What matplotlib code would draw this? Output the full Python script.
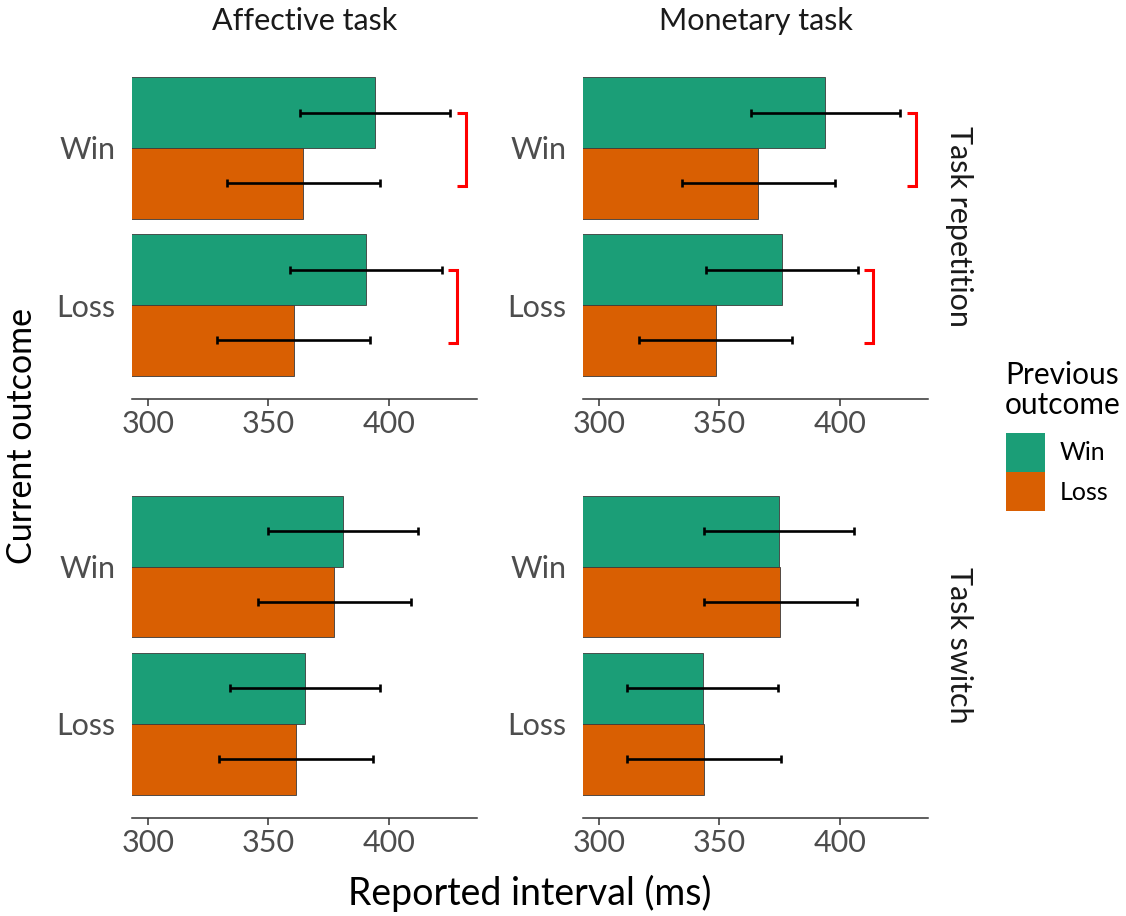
import matplotlib.pyplot as plt
from matplotlib.patches import Rectangle

plt.rcParams['font.family'] = ['Lato', 'DejaVu Sans']

# facets and categories
tasks = ['Affective task', 'Monetary task']
transitions = ['Task repetition', 'Task switch']
current_outcomes = ['Win', 'Loss']
previous_outcomes = ['Win', 'Loss']

# mean reported interval (ms): [transition][task][current][previous]
means = [
    [[[394.2, 364.3], [390.5, 360.5]],
     [[393.9, 366.1], [376.1, 348.4]]],
    [[[380.8, 377.2], [365.1, 361.6]],
     [[374.7, 375.2], [343.2, 343.7]]],
]
lower = [
    [[[363.2, 332.7], [358.9, 328.5]],
     [[362.9, 334.3], [344.5, 316.6]]],
    [[[350.0, 345.6], [333.9, 329.5]],
     [[343.8, 343.7], [311.9, 311.9]]],
]
upper = [
    [[[425.2, 396.0], [421.7, 392.1]],
     [[424.9, 397.7], [407.2, 380.1]]],
    [[[411.8, 409.0], [396.3, 393.4]],
     [[405.6, 407.0], [374.3, 375.5]]],
]
# which (transition, task, current) pairs get a significance bracket
significant = [(0, 0, 0), (0, 0, 1), (0, 1, 0), (0, 1, 1)]

colors = ['#1b9e77', '#d95f02']
xticks = [300, 350, 400]
xlim = (293.5, 436.5)

W, H = 1126, 916
fig = plt.figure(figsize=(W / 100, H / 100), dpi=100)

col_left = [132, 583]
row_top = [53.7, 472.5]
pw, ph = 345.3, 345.6

tick_color = '#4d4d4d'
bw = 0.45

for r in range(2):
    for c in range(2):
        ax = fig.add_axes([col_left[c] / W, 1 - (row_top[r] + ph) / H, pw / W, ph / H])
        for i, cur in enumerate(current_outcomes):
            ypos = 2 - i
            for j, prev in enumerate(previous_outcomes):
                y = ypos + bw / 2 - j * bw
                m = means[r][c][i][j]
                lo = lower[r][c][i][j]
                hi = upper[r][c][i][j]
                ax.barh(y, m, height=bw, color=colors[j], edgecolor='#3a3a3a',
                        linewidth=0.6, zorder=2)
                ax.errorbar(m, y, xerr=[[m - lo], [hi - m]], fmt='none',
                            ecolor='black', elinewidth=1.9, capsize=3.2,
                            capthick=1.9, zorder=3)
            if (r, c, i) in significant:
                top = max(upper[r][c][i])
                x0, x1 = top + 2.7, top + 6.5
                y0, y1 = ypos + 0.225, ypos - 0.24
                ax.plot([x0, x1, x1, x0], [y0, y0, y1, y1], color='#ff0000',
                        lw=2.2, solid_capstyle='butt', solid_joinstyle='miter',
                        clip_on=False, zorder=4)
        ax.set_xlim(*xlim)
        ax.set_ylim(0.4, 2.6)
        ax.set_xticks(xticks)
        ax.set_yticks([2, 1])
        ax.set_yticklabels(current_outcomes)
        for s in ['top', 'right', 'left']:
            ax.spines[s].set_visible(False)
        ax.spines['bottom'].set_color('#333333')
        ax.spines['bottom'].set_linewidth(1.1)
        ax.tick_params(axis='x', length=5, width=1.1, color='#333333',
                       labelsize=22, labelcolor=tick_color, pad=3)
        ax.tick_params(axis='y', length=0, labelsize=22, labelcolor=tick_color, pad=12)
        if r == 0:
            fig.text((col_left[c] + pw / 2) / W, 1 - 21 / H, tasks[c], ha='center',
                     va='center', fontsize=22, color='#1a1a1a')
        if c == 1:
            fig.text(959 / W, 1 - (row_top[r] + ph / 2) / H, transitions[r],
                     rotation=270, ha='center', va='center', fontsize=22,
                     color='#1a1a1a')

fig.text(22 / W, 1 - 436 / H, 'Current outcome', rotation=90, ha='center',
         va='center', fontsize=24.5)
fig.text(530 / W, 1 - 893 / H, 'Reported interval (ms)', ha='center',
         va='center', fontsize=27)

# legend
fig.text(1005 / W, 1 - 375 / H, 'Previous', ha='left', va='center', fontsize=21.5)
fig.text(1005 / W, 1 - 405 / H, 'outcome', ha='left', va='center', fontsize=21.5)
key_tops = [433, 472]
for j, p in enumerate(previous_outcomes):
    fig.patches.append(Rectangle((1006 / W, 1 - (key_tops[j] + 39) / H), 39 / W, 39 / H,
                                 transform=fig.transFigure, facecolor=colors[j],
                                 edgecolor='none'))
    fig.text(1060 / W, 1 - (key_tops[j] + 20) / H, p, ha='left', va='center',
             fontsize=18)

fig.savefig('out.png', dpi=100, facecolor='white')
